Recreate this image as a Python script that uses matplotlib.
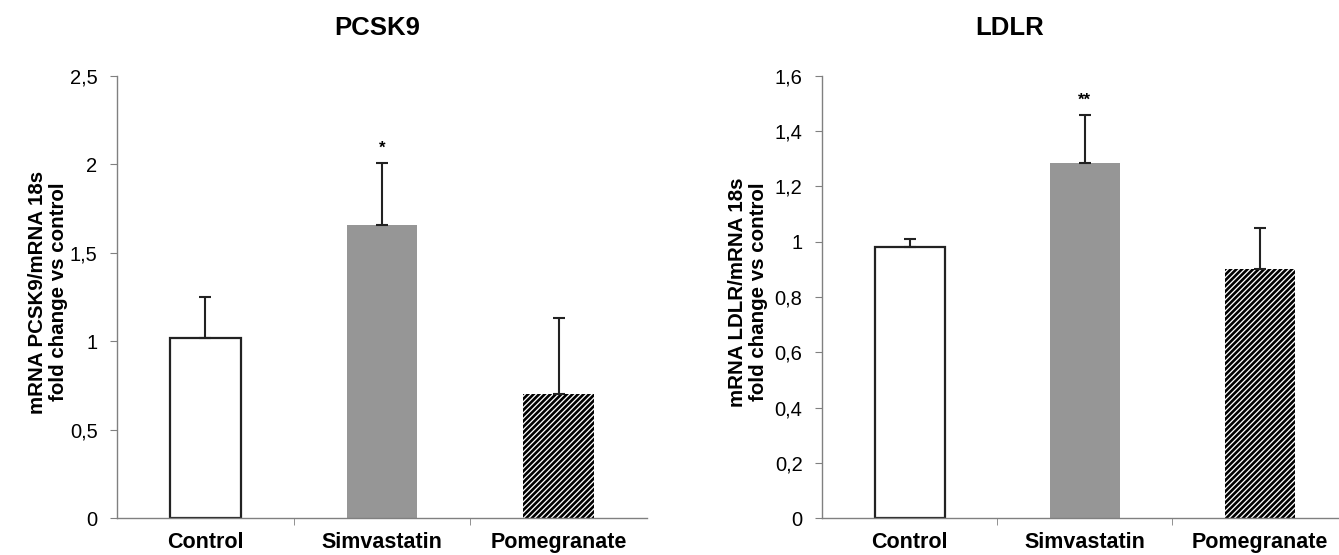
import numpy as np
import matplotlib
matplotlib.use("Agg")
import matplotlib.pyplot as plt
from matplotlib.ticker import MultipleLocator, FuncFormatter

categories = ["Control", "Simvastatin", "Pomegranate"]

pcsk9_mean = [1.02, 1.66, 0.70]
pcsk9_err = [0.23, 0.35, 0.43]
pcsk9_marks = ["", "*", ""]

ldlr_mean = [0.98, 1.285, 0.90]
ldlr_err = [0.03, 0.175, 0.15]
ldlr_marks = ["", "**", ""]

plt.rcParams["font.family"] = ["Liberation Sans", "DejaVu Sans"]
plt.rcParams["hatch.linewidth"] = 1.9

W, H = 1339, 555
fig = plt.figure(figsize=(W / 100, H / 100), dpi=100)


def comma(v, pos):
    return f"{v:g}".replace(".", ",")


def panel(left_px, right_px, means, errs, marks, ymax, ystep, ylabel, label_x):
    ax = fig.add_axes([left_px / W, (H - 518) / H, (right_px - left_px) / W, (518 - 76) / H])
    x = np.arange(len(categories))
    lower = np.zeros(len(errs))
    bars = ax.bar(x, means, width=0.4, yerr=[lower, errs],
                  error_kw=dict(ecolor="#222222", elinewidth=1.5, capsize=4.3, capthick=1.5))
    bars[0].set_facecolor("white")
    bars[0].set_edgecolor("#222222")
    bars[0].set_linewidth(1.6)
    bars[1].set_facecolor("#969696")
    bars[1].set_linewidth(0)
    bars[2].set_facecolor("white")
    bars[2].set_edgecolor("black")
    bars[2].set_hatch("//////")
    bars[2].set_linewidth(0)

    for xi, m, e, s in zip(x, means, errs, marks):
        if s:
            ax.annotate(s, (xi, m + e), xytext=(0, 5), textcoords="offset points",
                        ha="center", va="bottom", fontsize=12, fontweight="bold")

    ax.set_xlim(-0.5, 2.5)
    ax.set_ylim(0, ymax)
    ax.yaxis.set_major_locator(MultipleLocator(ystep))
    ax.yaxis.set_major_formatter(FuncFormatter(comma))
    ax.set_xticks(x)
    ax.set_xticklabels(categories, fontsize=15.5, fontweight="bold")
    ax.set_xticks([0.5, 1.5], minor=True)
    ax.tick_params(axis="x", which="major", length=0, pad=10)
    ax.tick_params(axis="x", which="minor", length=5, color="#808080", direction="out")
    ax.tick_params(axis="y", length=5, color="#808080", labelsize=14.5, pad=9)
    for side in ["top", "right"]:
        ax.spines[side].set_visible(False)
    for side in ["left", "bottom"]:
        ax.spines[side].set_color("#808080")
        ax.spines[side].set_linewidth(1.0)
    fig.text(label_x / W, 1 - 292 / H, ylabel, rotation=90, ha="center", va="center",
             fontsize=14.8, fontweight="bold", linespacing=1.1, multialignment="center")
    return ax


panel(117, 647, pcsk9_mean, pcsk9_err, pcsk9_marks, 2.5, 0.5,
      "mRNA PCSK9/mRNA 18s\nfold change vs control", 48)
panel(822, 1347, ldlr_mean, ldlr_err, ldlr_marks, 1.6, 0.2,
      "mRNA LDLR/mRNA 18s\nfold change vs control", 748)

fig.text(377 / W, 1 - 28 / H, "PCSK9", ha="center", va="center", fontsize=18.5, fontweight="bold")
fig.text(1010 / W, 1 - 28 / H, "LDLR", ha="center", va="center", fontsize=18.5, fontweight="bold")

fig.savefig("out.png", dpi=100)
